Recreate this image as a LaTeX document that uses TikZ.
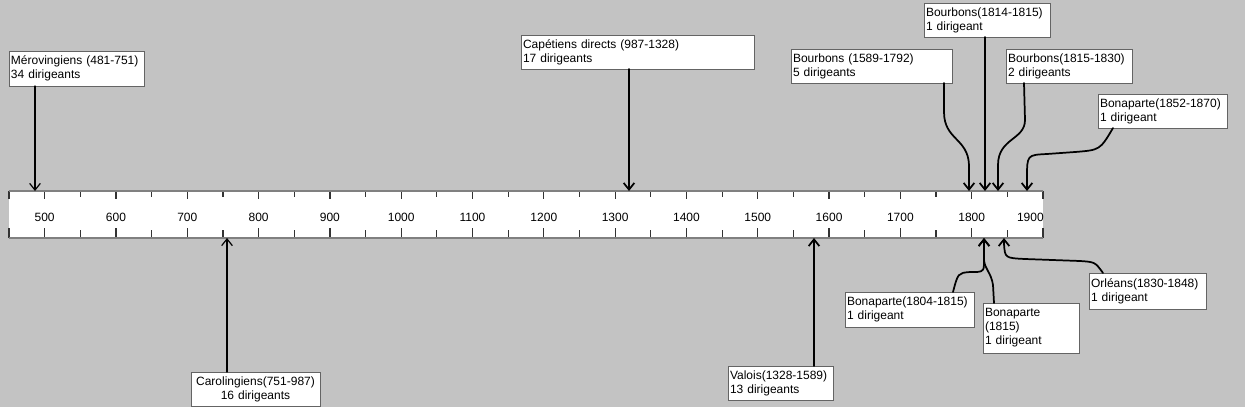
\documentclass[tikz,border=0pt]{standalone}
\usepackage{fontspec}
\setmainfont{Liberation Sans}
\usepackage{tikz}
\usetikzlibrary{arrows.meta,positioning}
\definecolor{fond}{RGB}{195,195,195}
\definecolor{bordure}{RGB}{100,100,100}
\definecolor{regle}{RGB}{128,128,128}
\tikzset{
  boite/.style={draw=bordure, line width=0.75pt, fill=white, anchor=north west, align=left,
    inner xsep=1.5pt, inner ysep=0pt, outer sep=0pt, font=\fontsize{9}{10.5}\selectfont},
  fleche/.style={-{Straight Barb[length=5pt,width=8pt]}, line width=1.3pt, line cap=round},
  tic/.style={black!80, line width=0.9pt},
  graduation/.style={font=\fontsize{9}{10.5}\selectfont, inner sep=0pt}
}
\begin{document}
\begin{tikzpicture}[x=0.75pt,y=-0.75pt]
  \def\pas{0.7131}
  \useasboundingbox (0,0) rectangle (1245,407);
  \fill[fond] (0,0) rectangle (1245,407);
  % time line
  \node[fill=white, minimum width=775.5pt, minimum height=35.25pt, anchor=north west,
    inner sep=0pt, outer sep=0pt] (axe) at (9,191) {};
  \foreach \an in {500,600,...,1900}{
    \draw[tic] ({9+(\an-450)*\pas},191) -- ++(0,8);
    \draw[tic] ({9+(\an-450)*\pas},238) -- ++(0,-10);
  }
  \foreach \an in {550,650,...,1850}{
    \draw[tic] ({9+(\an-450)*\pas},191) -- ++(0,6);
    \draw[tic] ({9+(\an-450)*\pas},238) -- ++(0,-8);
  }
  \draw[tic] (9,191) -- ++(0,8);
  \draw[tic] (9,238) -- ++(0,-10);
  \draw[regle, line width=1.5pt] (axe.north west) -- (axe.north east);
  \draw[regle, line width=1.5pt] (axe.south west) -- (axe.south east);
  \foreach \an in {500,600,...,1800}
    \node[graduation] at ({9+(\an-450)*\pas},217) {\an};
  \node[graduation, anchor=east] at (1044,217) {1900};
  % dynasties above
  \node[boite, text width=98.25pt, minimum height=26.25pt] (merov) at (9,51) {Mérovingiens~(481-751)\\34 dirigeants};
  \node[boite, text width=171.75pt, minimum height=25.5pt] (cap) at (521,35) {Capétiens directs (987-1328)\\17 dirigeants};
  \node[boite, text width=117.75pt, minimum height=25.5pt] (bourbA) at (791,49) {Bourbons (1589-1792)\\5 dirigeants};
  \node[boite, text width=91.5pt, minimum height=25.5pt] (bourbB) at (924,3) {Bourbons(1814-1815)\\1 dirigeant};
  \node[boite, text width=91.5pt, minimum height=25.5pt] (bourbC) at (1006,49) {Bourbons(1815-1830)\\2 dirigeants};
  \node[boite, text width=93.75pt, minimum height=25.5pt] (bonapD) at (1098,94) {Bonaparte(1852-1870)\\1 dirigeant};
  % dynasties below
  \node[boite, text width=93.75pt, minimum height=25.5pt, align=center] (carol) at (191,372) {Carolingiens(751-987)\\16 dirigeants};
  \node[boite, text width=75.75pt, minimum height=25.5pt] (valois) at (728,366) {Valois(1328-1589)\\13 dirigeants};
  \node[boite, text width=93.75pt, minimum height=26.25pt] (bonapA) at (845,292) {Bonaparte(1804-1815)\\1 dirigeant};
  \node[boite, text width=69pt, minimum height=37.5pt] (bonapB) at (983,303) {Bonaparte\\(1815)\\1 dirigeant};
  \node[boite, text width=84.75pt, minimum height=27pt] (orleans) at (1089,273) {Orléans(1830-1848)\\1 dirigeant};
  % arrows
  \draw[fleche, line width=0.9pt] (merov.south -| 35,0) -- (axe.north -| 35,0);
  \draw[fleche] (cap.south -| 629,0) -- (axe.north -| 629,0);
  \draw[fleche] (bourbA.south -| 944,0) -- (944,112) .. controls (944,140) and (968,138) .. (969,165) -- (axe.north -| 969,0);
  \draw[fleche] (bourbB.south -| 985,0) -- (axe.north -| 985,0);
  \draw[fleche] (bourbC.south -| 1024,0) -- (1025,120) .. controls (1025,140) and (998,138) .. (998,165) -- (axe.north -| 998,0);
  \draw[fleche] (bonapD.south -| 1113,0) .. controls (1100,150) .. (1075,152) -- (1047,154) .. controls (1027,155) .. (1027,178) -- (axe.north -| 1027,0);
  \draw[fleche, line width=0.9pt] (carol.north -| 227,0) -- (axe.south -| 227,0);
  \draw[fleche] (valois.north -| 814,0) -- (axe.south -| 814,0);
  \draw[fleche] (bonapA.north -| 953,0) .. controls (958,273) .. (970,272) -- (977,272) .. controls (984,271) .. (984,258) -- (axe.south -| 984,0);
  \draw[fleche] (bonapB.north -| 994,0) -- (993,285) .. controls (991,272) and (985,270) .. (984,260) -- (axe.south -| 984,0);
  \draw[fleche] (orleans.north -| 1103,0) .. controls (1095,262) .. (1080,261) -- (1025,259) .. controls (1005,258) .. (1004,244) -- (axe.south -| 1004,0);
\end{tikzpicture}
\end{document}
